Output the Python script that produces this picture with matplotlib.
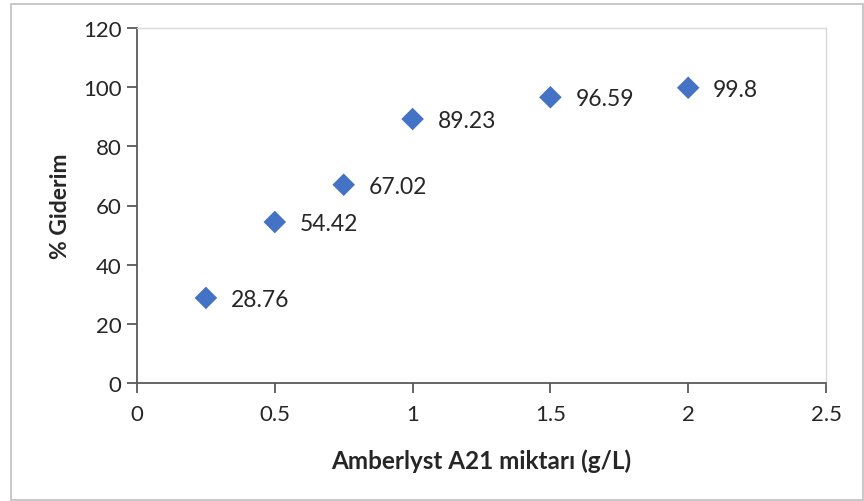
import matplotlib
matplotlib.use("Agg")
import matplotlib.pyplot as plt
from matplotlib.patches import Rectangle

# Adsorbent dose vs. removal percentage
doses = [0.25, 0.5, 0.75, 1.0, 1.5, 2.0]
removal = [28.76, 54.42, 67.02, 89.23, 96.59, 99.8]
value_labels = ["28.76", "54.42", "67.02", "89.23", "96.59", "99.8"]
x_ticks = [0, 0.5, 1, 1.5, 2, 2.5]
x_tick_labels = ["0", "0.5", "1", "1.5", "2", "2.5"]
y_ticks = [0, 20, 40, 60, 80, 100, 120]

plt.rcParams["font.family"] = ["Lato", "DejaVu Sans"]

W, H = 864, 502
fig = plt.figure(figsize=(W / 100, H / 100), dpi=100)
fig.patch.set_facecolor("white")

# light outer chart frame
fig.add_artist(Rectangle((11 / W, 1.5 / H), (W - 12.5) / W, (H - 6) / H,
                         transform=fig.transFigure, fill=False,
                         edgecolor="#BFBFBF", linewidth=1.2))

left, right, top, bottom = 137, 826, 29, 384
ax = fig.add_axes([left / W, 1 - bottom / H, (right - left) / W, (bottom - top) / H])

ax.scatter(doses, removal, marker="D", s=11.5 ** 2, color="#4472C4",
           edgecolors="none", zorder=3, clip_on=False)

for x, y, lab in zip(doses, removal, value_labels):
    ax.annotate(lab, (x, y), xytext=(18, -1), textcoords="offset points",
                ha="left", va="center", fontsize=16.5, color="#262626")

ax.set_xlim(0, 2.5)
ax.set_ylim(0, 120)
ax.set_xticks(x_ticks)
ax.set_xticklabels(x_tick_labels)
ax.set_yticks(y_ticks)

for side in ("top", "right"):
    ax.spines[side].set_color("#D9D9D9")
    ax.spines[side].set_linewidth(1.0)
for side in ("left", "bottom"):
    ax.spines[side].set_color("#595959")
    ax.spines[side].set_linewidth(1.3)

ax.tick_params(axis="both", direction="out", length=7, width=1.3,
               color="#595959", labelsize=16, labelcolor="#262626")
ax.tick_params(axis="y", pad=4)
ax.tick_params(axis="x", pad=8)

ax.set_xlabel("Amberlyst A21 miktarı (g/L)", fontsize=17.5, fontweight="bold",
              color="#262626", labelpad=18)
ax.set_ylabel("% Giderim", fontsize=16.5, fontweight="bold",
              color="#262626", labelpad=9)

fig.savefig("out.png", dpi=100)
